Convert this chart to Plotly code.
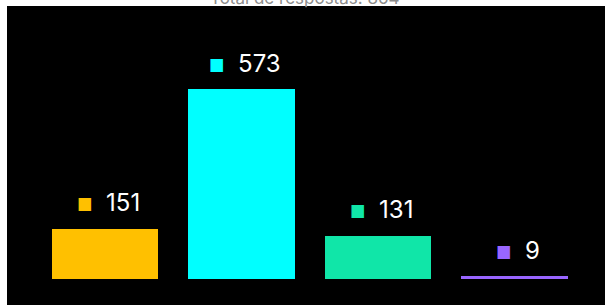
import plotly.graph_objects as go

categories = ["A", "B", "C", "D"]
values = [151, 573, 131, 9]
colors = ["#FFC000", "#00FFFF", "#10E6A8", "#9966FF"]
title_text = "Total de respostas: 864"

W, H = 605, 305
L, T = 7, 6
px_per_cat = 136.5
first_center = 105
base_px = 279
px_per_unit = 190 / 573

plot_w = W - L
plot_h = H - T
x0 = -(first_center - L) / px_per_cat
x1 = x0 + plot_w / px_per_cat
y0 = -(H - base_px) / px_per_unit
y1 = y0 + plot_h / px_per_unit

fig = go.Figure()
fig.add_trace(go.Bar(
    x=list(range(len(categories))), y=values,
    marker=dict(color=colors, line=dict(width=0)),
    width=0.777, hoverinfo="skip",
))

annotations = []
for i, (v, c) in enumerate(zip(values, colors)):
    annotations.append(dict(
        x=i, y=v, xref="x", yref="y", yshift=26, xshift=3,
        xanchor="center", yanchor="middle", showarrow=False,
        text=f"<span style='color:{c};font-size:17px'>■</span>  {v}",
        font=dict(family="Inter", size=24, color="#FFFFFF"),
    ))
annotations.append(dict(
    x=(305 - L) / plot_w, y=1, xref="paper", yref="paper", yanchor="bottom",
    yshift=-4, showarrow=False, text=title_text,
    font=dict(family="Inter", size=17, color="#8C8C8C"),
))

fig.update_layout(
    width=W, height=H,
    margin=dict(l=L, r=0, t=T, b=0, pad=0),
    paper_bgcolor="#FFFFFF", plot_bgcolor="#000000",
    showlegend=False, bargap=0,
    xaxis=dict(range=[x0, x1], visible=False, showgrid=False, zeroline=False),
    yaxis=dict(range=[y0, y1], visible=False, showgrid=False, zeroline=False),
    annotations=annotations,
)
fig.write_html("out.html", config={"displayModeBar": False},
               post_script="document.body.style.margin='0';")
